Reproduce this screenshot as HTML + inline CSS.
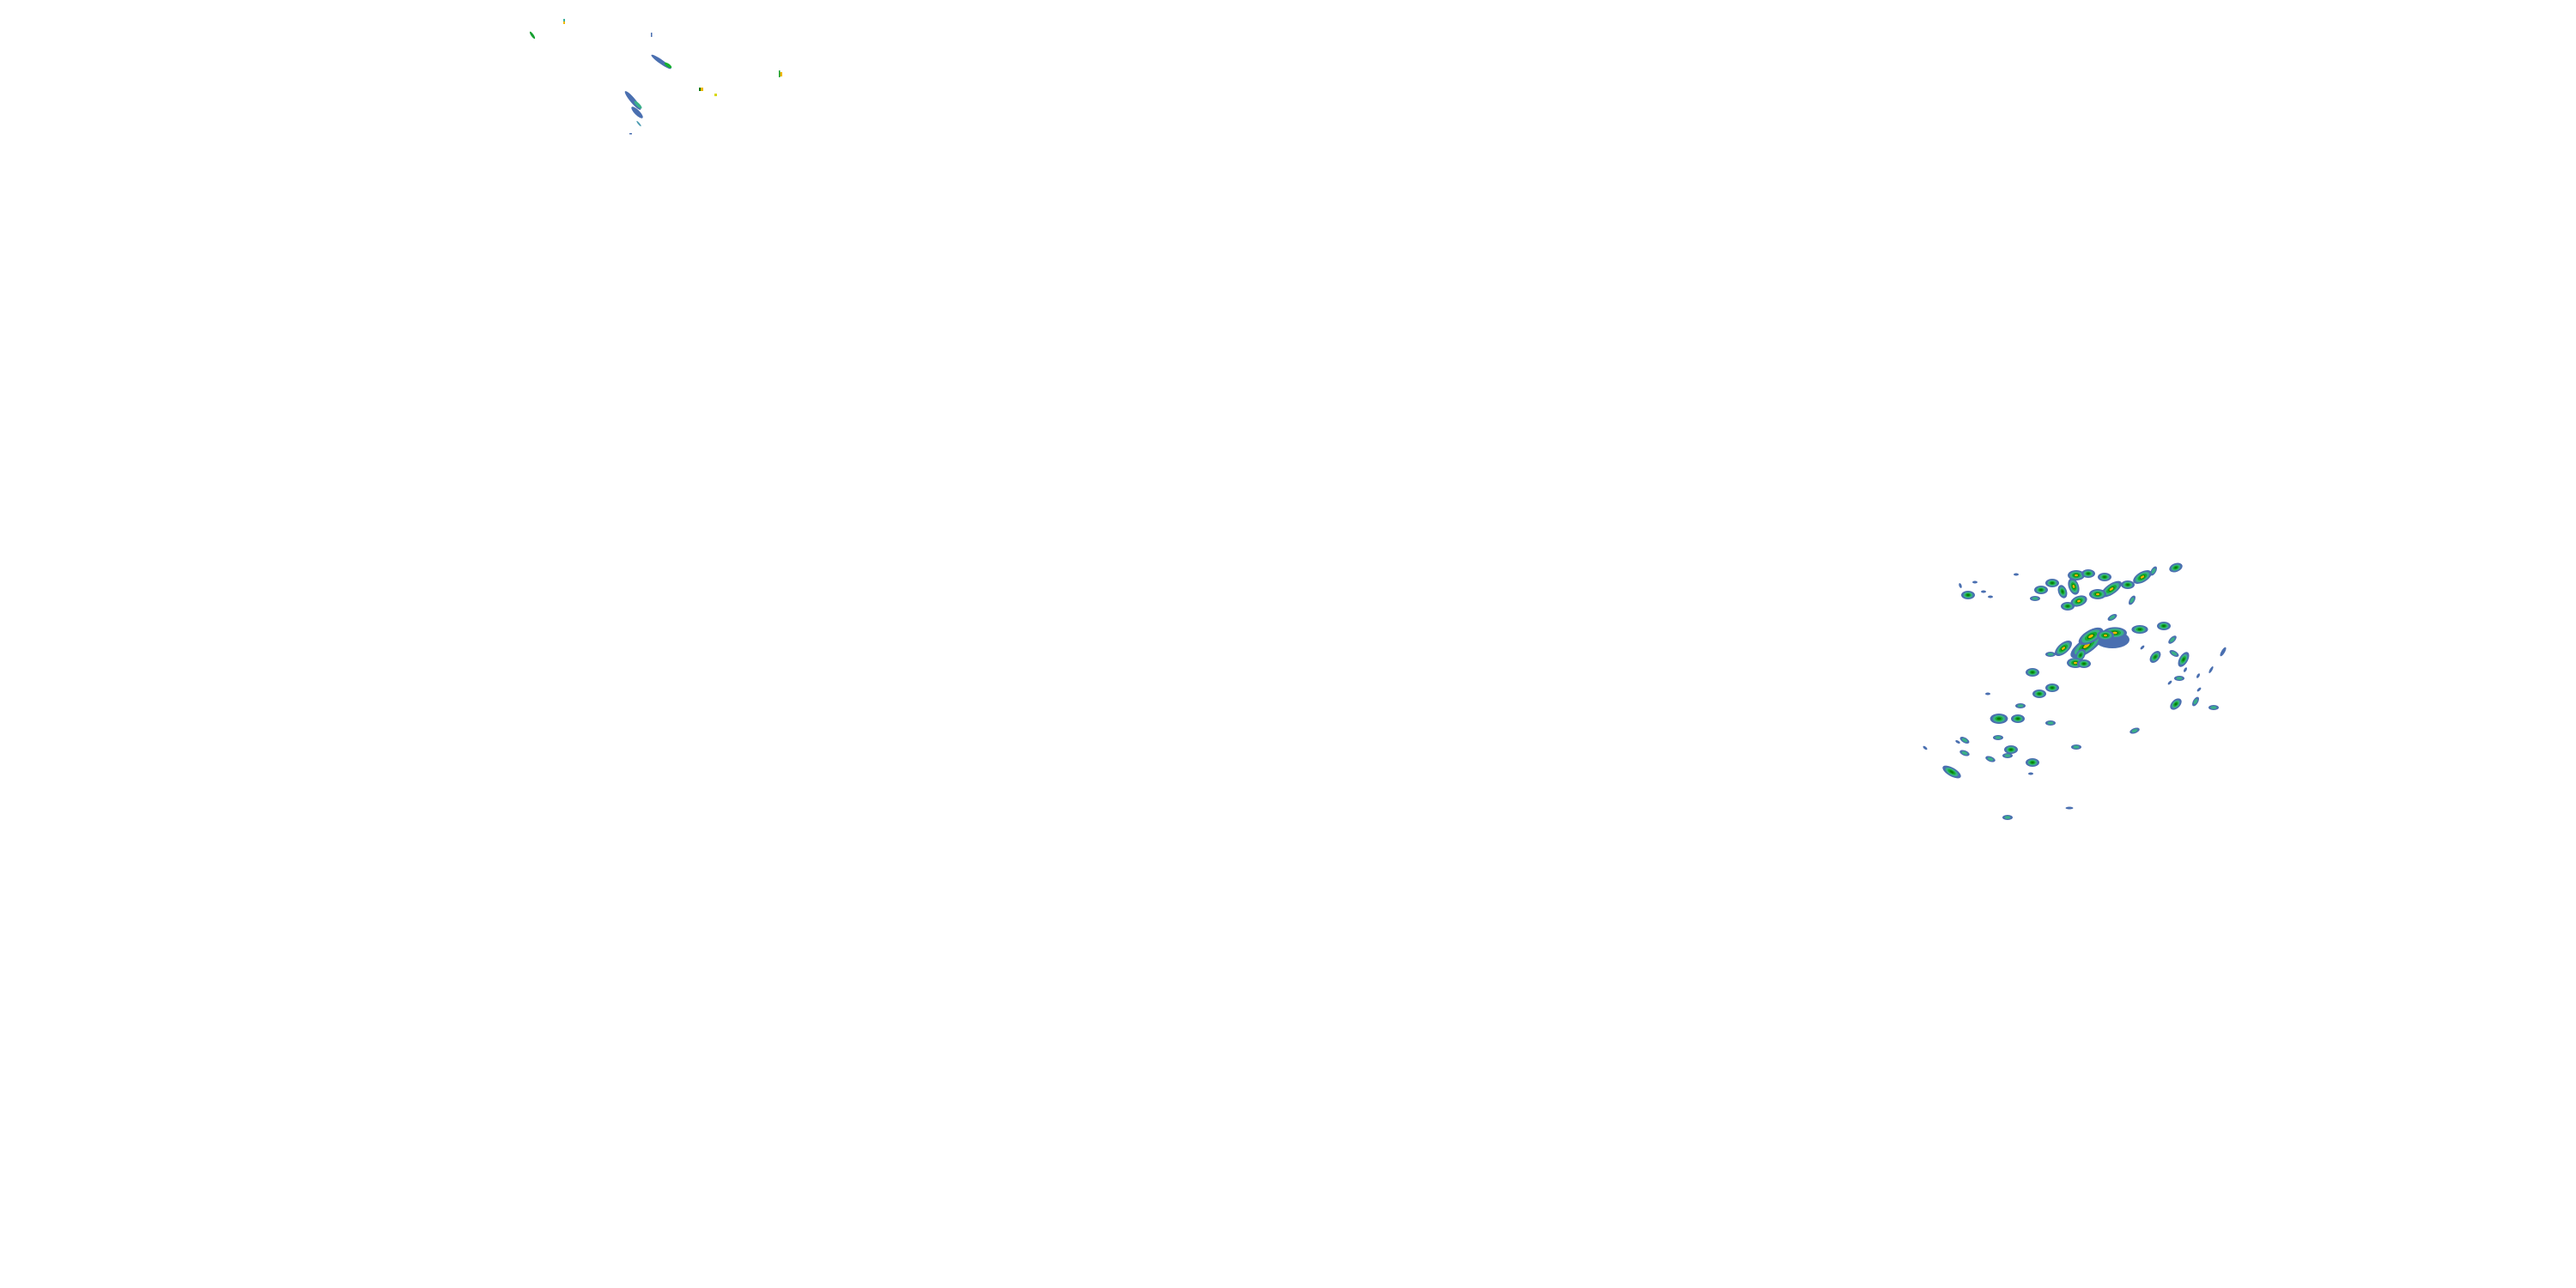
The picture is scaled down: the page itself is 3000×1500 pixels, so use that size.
<!DOCTYPE html>
<html><head><meta charset="utf-8"><style>
html,body{margin:0;padding:0;background:#fff;}
svg{display:block;}
</style></head><body>
<svg width="3000" height="1500" viewBox="0 0 3000 1500" xmlns="http://www.w3.org/2000/svg">
<defs>
<g id="b3"><ellipse rx="10" ry="6" fill="#4a6fb0"/><ellipse rx="7.5" ry="4.5" fill="#3ab088"/><ellipse rx="5" ry="3" fill="#15b030"/><ellipse rx="3" ry="2" fill="#0a7a10"/><ellipse rx="2" ry="1.3" fill="#f0b800"/></g>
<g id="b2"><ellipse rx="8" ry="5" fill="#4a6fb0"/><ellipse rx="5.5" ry="3.5" fill="#3ab088"/><ellipse rx="3.5" ry="2.2" fill="#15b030"/><ellipse rx="1.8" ry="1.2" fill="#0a7a10"/></g>
<g id="b1"><ellipse rx="6" ry="3" fill="#4a6fb0"/><ellipse rx="3.5" ry="1.8" fill="#3ab088"/></g>
<g id="b0"><ellipse rx="3" ry="1.5" fill="#4a6fb0"/></g>
</defs>
<!-- top-left streaks -->
<g>
<ellipse cx="620" cy="41" rx="5" ry="1.5" transform="rotate(55 620 41)" fill="#15a030"/>
<rect x="656" y="22" width="2" height="6" fill="#3ab0a0"/><rect x="656" y="25" width="2" height="3" fill="#f0b800"/>
<rect x="758" y="38" width="1.5" height="5" fill="#4a6fb0"/>
<ellipse cx="770" cy="72" rx="14" ry="2.5" transform="rotate(35 770 72)" fill="#4a6fb0"/>
<ellipse cx="778" cy="76" rx="5" ry="2" transform="rotate(35 778 76)" fill="#15b030"/>
<ellipse cx="737" cy="117" rx="14" ry="3" transform="rotate(50 737 117)" fill="#4a6fb0"/>
<ellipse cx="743" cy="122" rx="6" ry="2" transform="rotate(45 743 122)" fill="#3ab088"/>
<ellipse cx="742" cy="131" rx="9" ry="3" transform="rotate(45 742 131)" fill="#4a6fb0"/>
<ellipse cx="744" cy="144" rx="4" ry="1" transform="rotate(50 744 144)" fill="#4a9ab0"/>
<rect x="733" y="155" width="3" height="1.5" fill="#4a6fb0"/>
<rect x="815" y="102" width="4" height="4" fill="#f0b800"/><rect x="814" y="102" width="2" height="4" fill="#0a7a10"/>
<rect x="832" y="109" width="3" height="3" fill="#d8d800"/>
<rect x="907" y="84" width="4" height="5" fill="#f0b800"/><rect x="907" y="82" width="1.5" height="8" fill="#15a030"/>
</g>
<!-- right cluster -->
<g>
<use href="#b3" transform="translate(2418,670)"/>
<use href="#b2" transform="translate(2432,668)"/>
<use href="#b3" transform="translate(2415,683) rotate(70)"/>
<use href="#b2" transform="translate(2402,689) rotate(70)"/>
<use href="#b3" transform="translate(2421,700) rotate(-20)"/>
<use href="#b2" transform="translate(2408,706)"/>
<use href="#b2" transform="translate(2451,672)"/>
<use href="#b3" transform="translate(2459,686) rotate(-35) scale(1.4,1)"/>
<use href="#b3" transform="translate(2443,692)"/>
<use href="#b2" transform="translate(2478,681)"/>
<use href="#b3" transform="translate(2495,672) rotate(-30) scale(1.2,1)"/>
<use href="#b1" transform="translate(2508,665) rotate(-60)"/>
<use href="#b2" transform="translate(2534,661) rotate(-20)"/>
<use href="#b1" transform="translate(2483,699) rotate(-60)"/>
<use href="#b2" transform="translate(2377,687)"/>
<use href="#b2" transform="translate(2390,679)"/>
<use href="#b1" transform="translate(2370,697)"/>
<use href="#b2" transform="translate(2292,693)"/>
<use href="#b0" transform="translate(2283,682) rotate(70)"/>
<use href="#b0" transform="translate(2310,689)"/>
<use href="#b0" transform="translate(2318,695)"/>
<use href="#b0" transform="translate(2348,669)"/>
<use href="#b0" transform="translate(2300,678)"/>
<use href="#b1" transform="translate(2460,719) rotate(-30)"/>
<!-- central storm -->
<ellipse cx="2460" cy="745" rx="20" ry="10" fill="#4a6fb0"/>
<use href="#b3" transform="translate(2430,752) rotate(-35) scale(2.2,1.4)"/>
<use href="#b3" transform="translate(2435,741) rotate(-30) scale(1.6,1.2)"/>
<use href="#b3" transform="translate(2463,737) scale(1.4,1.1)"/>
<use href="#b3" transform="translate(2452,740)"/>
<use href="#b2" transform="translate(2492,733) scale(1.2,1)"/>
<use href="#b3" transform="translate(2403,755) rotate(-40) scale(1.2,1)"/>
<use href="#b2" transform="translate(2423,763) rotate(-60)"/>
<use href="#b3" transform="translate(2417,772)"/>
<use href="#b2" transform="translate(2427,773)"/>
<use href="#b1" transform="translate(2388,762)"/>
<use href="#b2" transform="translate(2520,729)"/>
<use href="#b1" transform="translate(2530,745) rotate(-45)"/>
<use href="#b1" transform="translate(2532,761) rotate(30)"/>
<use href="#b2" transform="translate(2543,768) rotate(-60) scale(1.2,1)"/>
<use href="#b2" transform="translate(2510,765) rotate(-50)"/>
<use href="#b0" transform="translate(2589,759) rotate(-60) scale(2,1.4)"/>
<use href="#b1" transform="translate(2538,790)"/>
<use href="#b0" transform="translate(2575,780) rotate(-60) scale(1.5,1)"/>
<use href="#b0" transform="translate(2560,787) rotate(-60)"/>
<use href="#b0" transform="translate(2545,780) rotate(-60)"/>
<use href="#b2" transform="translate(2534,820) rotate(-45)"/>
<use href="#b1" transform="translate(2557,817) rotate(-60)"/>
<use href="#b1" transform="translate(2578,824)"/>
<use href="#b0" transform="translate(2561,803) rotate(-45)"/>
<use href="#b0" transform="translate(2527,795) rotate(-45)"/>
<use href="#b2" transform="translate(2367,783)"/>
<use href="#b2" transform="translate(2390,801)"/>
<use href="#b2" transform="translate(2375,808)"/>
<use href="#b1" transform="translate(2353,822)"/>
<use href="#b2" transform="translate(2328,837) scale(1.3,1.2)"/>
<use href="#b2" transform="translate(2350,837)"/>
<use href="#b1" transform="translate(2388,842)"/>
<use href="#b1" transform="translate(2486,851) rotate(-20)"/>
<use href="#b1" transform="translate(2418,870)"/>
<use href="#b2" transform="translate(2342,873)"/>
<use href="#b2" transform="translate(2367,888)"/>
<use href="#b2" transform="translate(2273,899) rotate(30) scale(1.5,1)"/>
<use href="#b1" transform="translate(2288,877) rotate(20)"/>
<use href="#b1" transform="translate(2318,884) rotate(20)"/>
<use href="#b1" transform="translate(2338,880)"/>
<use href="#b1" transform="translate(2327,859)"/>
<use href="#b0" transform="translate(2410,941) scale(1.5,1)"/>
<use href="#b1" transform="translate(2338,952)"/>
<use href="#b0" transform="translate(2365,901)"/>
<use href="#b0" transform="translate(2242,871) rotate(40)"/>
<use href="#b1" transform="translate(2288,862) rotate(30)"/>
<use href="#b0" transform="translate(2280,864) rotate(30)"/>
<use href="#b0" transform="translate(2315,808)"/>
<use href="#b0" transform="translate(2495,754) rotate(-45)"/>
</g>
</svg>
</body></html>
